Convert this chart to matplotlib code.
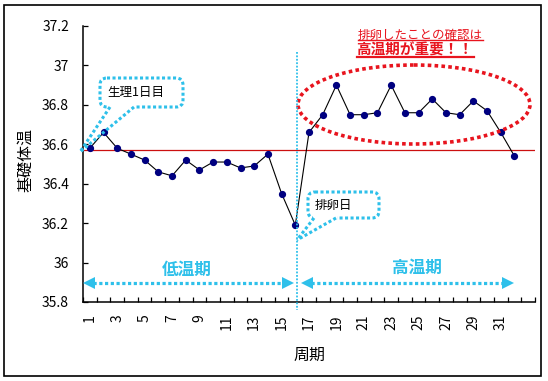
import matplotlib.pyplot as plt
from matplotlib.patches import Ellipse, FancyBboxPatch, Polygon, Rectangle

plt.rcParams['font.family'] = ['Noto Sans CJK JP', 'DejaVu Sans']

# data
days = list(range(1, 33))
temps = [36.58, 36.66, 36.58, 36.55, 36.52, 36.46, 36.44, 36.52, 36.47, 36.51,
         36.51, 36.48, 36.49, 36.55, 36.35, 36.19, 36.66, 36.75, 36.90, 36.75,
         36.75, 36.76, 36.90, 36.76, 36.76, 36.83, 36.76, 36.75, 36.82, 36.77,
         36.66, 36.54]
n_cat = 33
baseline = 36.57
yticks = [35.8, 36.0, 36.2, 36.4, 36.6, 36.8, 37.0, 37.2]
ytick_labels = ['35.8', '36', '36.2', '36.4', '36.6', '36.8', '37', '37.2']
xtick_pos = list(range(1, 32, 2))
xtick_labels = [str(d) for d in xtick_pos]

CYAN = '#2ec0ea'
RED = '#e8141e'

fig = plt.figure(figsize=(5.48, 3.81), dpi=100)
ax = fig.add_axes([83 / 548, 1 - 302 / 381, 452 / 548, 276 / 381])

ax.plot(days, temps, color='black', lw=0.8, marker='o', markersize=4.2,
        markerfacecolor='#000080', markeredgecolor='#000080', zorder=3)
ax.axhline(baseline, color='#cc1010', lw=0.9, zorder=2)

ax.set_xlim(0.5, n_cat + 0.5)
ax.set_ylim(35.8, 37.2)
ax.set_yticks(yticks)
ax.set_yticklabels(ytick_labels)
ax.set_xticks(xtick_pos)
ax.set_xticklabels(xtick_labels, rotation=90, va='top', ha='center')
ax.set_xticks([i + 0.5 for i in range(0, n_cat + 1)], minor=True)
ax.tick_params(axis='x', which='major', length=0, pad=9, labelsize=10)
ax.tick_params(axis='x', which='minor', direction='in', length=3.5, width=0.9)
ax.tick_params(axis='y', direction='in', length=3.5, width=0.9, pad=10, labelsize=10)
for s in ['top', 'right']:
    ax.spines[s].set_visible(False)
for s in ['left', 'bottom']:
    ax.spines[s].set_linewidth(1.1)

ax.set_ylabel('基礎体温', fontsize=11.5)
ax.yaxis.set_label_coords(-0.128, 0.515)
ax.yaxis.label.set_verticalalignment('center')
ax.set_xlabel('周期', fontsize=11.5)
ax.xaxis.set_label_coords(0.5, -0.195)
ax.xaxis.label.set_verticalalignment('center')

# overlay in pixel coordinates for annotations
ov = fig.add_axes([0, 0, 1, 1], zorder=5)
ov.set_xlim(0, 548)
ov.set_ylim(381, 0)
ov.axis('off')
ov.patch.set_alpha(0)

ov.add_patch(Rectangle((4, 5), 537, 371, fill=False, ec='black', lw=1.2))

# ovulation line
ov.plot([297, 297], [52, 310], color=CYAN, lw=1.3, ls=(0, (1, 0.9)))

# period arrows
def period_arrow(x0, x1, y, label, lx, ly):
    ov.plot([x0 + 10, x1 - 10], [y, y], color=CYAN, lw=2.3, ls=(0, (1, 0.8)))
    ov.add_patch(Polygon([(x0, y), (x0 + 12, y - 6), (x0 + 12, y + 6)], color=CYAN, lw=0))
    ov.add_patch(Polygon([(x1, y), (x1 - 12, y - 6), (x1 - 12, y + 6)], color=CYAN, lw=0))
    ov.text(lx, ly, label, color=CYAN, fontsize=12, fontweight='bold',
            ha='center', va='center')

period_arrow(83, 294, 283, '低温期', 187, 270)
period_arrow(301, 514, 283, '高温期', 417, 268)

# callouts
def callout(x0, y0, x1, y1, a, b, tip, label):
    box = FancyBboxPatch((x0, y0), x1 - x0, y1 - y0,
                         boxstyle='round,pad=0,rounding_size=7',
                         fc='white', ec=CYAN, lw=2.2, ls=(0, (1, 0.8)), zorder=2)
    ov.add_patch(box)
    ov.plot([a + 1, b - 1], [y1, y1], color='white', lw=3, zorder=3)
    ov.plot([a, tip[0]], [y1, tip[1]], color=CYAN, lw=2.2, ls=(0, (1, 0.8)), zorder=4)
    ov.plot([b, tip[0]], [y1, tip[1]], color=CYAN, lw=2.2, ls=(0, (1, 0.8)), zorder=4)
    ov.text(x0 + 7, (y0 + y1) / 2, label, fontsize=9, ha='left', va='center', zorder=5)

callout(100, 78, 183, 107, 110, 134, (80, 152), '生理1日目')
callout(308, 192, 379, 218, 314, 336, (297, 240), '排卵日')

# high temperature ellipse
ov.add_patch(Ellipse((414, 104.5), 232, 79, fill=False, ec=RED, lw=2.6,
                     ls=(0, (1, 0.9))))

t1 = ov.text(420, 35, '排卵したことの確認は', color=RED, fontsize=9,
             ha='center', va='center')
t2 = ov.text(415, 50, '高温期が重要！！', color=RED, fontsize=10.5,
             fontweight='bold', ha='center', va='center')

fig.canvas.draw()
inv = ov.transData.inverted()
for t, uy, w in [(t1, 40, 1.0), (t2, 57, 1.6)]:
    bb = t.get_window_extent()
    xa = inv.transform((bb.x0, bb.y0))[0]
    xb = inv.transform((bb.x1, bb.y0))[0]
    ov.plot([xa, xb], [uy, uy], color=RED, lw=w)

fig.savefig('out.png', dpi=100)
